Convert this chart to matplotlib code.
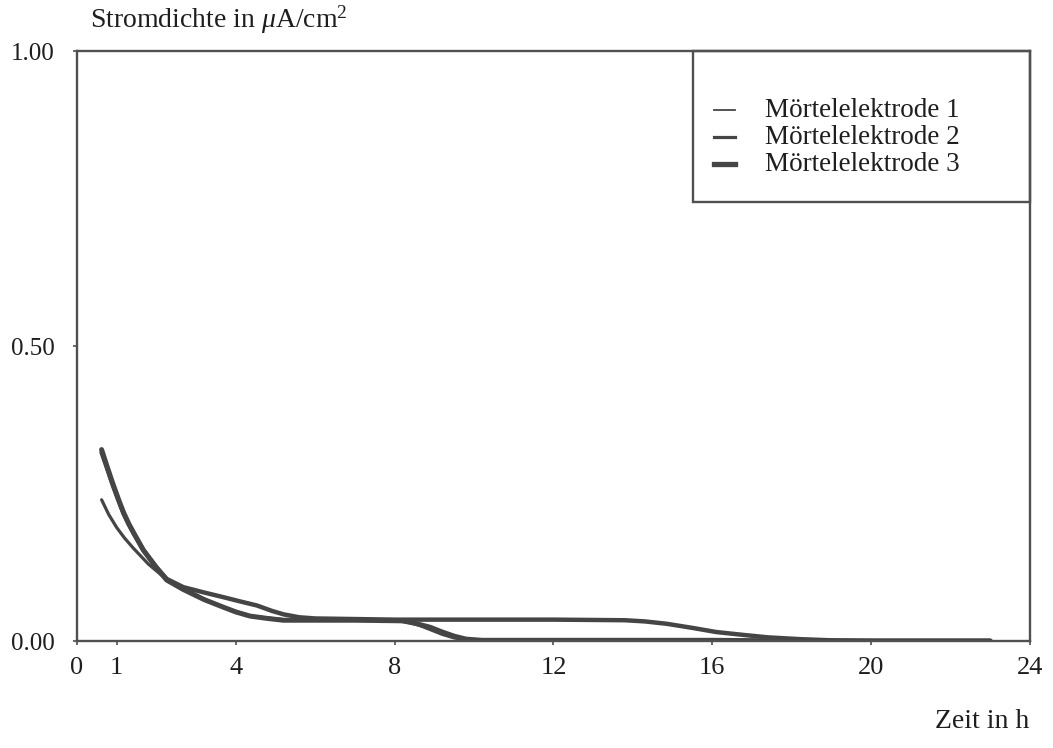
import matplotlib
matplotlib.use("Agg")
import matplotlib.pyplot as plt
from matplotlib.lines import Line2D
from matplotlib.patches import Rectangle

plt.rcParams['font.family'] = ['Liberation Serif', 'DejaVu Serif']
plt.rcParams['mathtext.fontset'] = 'custom'
plt.rcParams['mathtext.rm'] = 'Liberation Serif'
plt.rcParams['mathtext.it'] = 'Liberation Serif:italic'

# ---- data ----
labels = ["Mörtelelektrode 1", "Mörtelelektrode 2", "Mörtelelektrode 3"]

t1 = [0.62, 0.8, 1.0, 1.2, 1.42, 1.8, 2.26, 2.68, 3.2, 3.69, 4.36, 5.2, 6.0, 7.0, 8.0,
      8.3, 8.6, 8.9, 9.2, 9.5, 9.8, 10.5, 12.0, 14.0, 16.0, 18.0, 20.0, 22.0, 23.0]
j1 = [0.24, 0.215, 0.193, 0.175, 0.158, 0.131, 0.105, 0.090, 0.072, 0.058, 0.043, 0.037, 0.036, 0.036, 0.035,
      0.033, 0.028, 0.020, 0.012, 0.006, 0.003, 0.002, 0.002, 0.002, 0.002, 0.001, 0.001, 0.001, 0.001]

t2 = [0.62, 0.75, 0.9, 1.05, 1.17, 1.3, 1.42, 1.67, 2.0, 2.26, 2.68, 3.2, 3.69, 4.1, 4.53, 4.9, 5.2, 5.6,
      6.0, 8.0, 10.0, 12.0, 13.8, 14.3, 14.85, 15.5, 16.1, 16.8, 17.4, 18.2, 19.0, 20.0, 22.0, 23.0]
j2 = [0.32, 0.295, 0.265, 0.238, 0.217, 0.199, 0.184, 0.155, 0.126, 0.106, 0.092, 0.083, 0.075, 0.068, 0.061,
      0.052, 0.046, 0.041, 0.039, 0.037, 0.037, 0.037, 0.036, 0.034, 0.030, 0.023, 0.016, 0.011, 0.007, 0.004,
      0.002, 0.001, 0.001, 0.001]

t3 = [0.62, 0.75, 0.9, 1.05, 1.17, 1.3, 1.42, 1.67, 2.0, 2.26, 2.68, 3.2, 3.69, 4.0, 4.36, 4.8, 5.2, 6.0, 7.0,
      8.2, 8.5, 8.9, 9.2, 9.5, 9.8, 10.2, 12.0, 14.0, 16.0, 18.0, 20.0, 22.0, 23.0]
j3 = [0.325, 0.298, 0.268, 0.240, 0.219, 0.200, 0.185, 0.155, 0.125, 0.104, 0.088, 0.071, 0.058, 0.050, 0.043,
      0.039, 0.036, 0.036, 0.036, 0.035, 0.031, 0.024, 0.016, 0.009, 0.004, 0.002, 0.002, 0.002, 0.002, 0.001,
      0.001, 0.001, 0.001]

xticks = [0, 1, 4, 8, 12, 16, 20, 24]
yticks = [0.0, 0.5, 1.0]
yticklabels = ["0.00", "0.50", "1.00"]

line_color = "#454545"
text_color = "#1e1e1e"
widths = [2.3, 3.2, 3.6]

fig = plt.figure(figsize=(10.53, 7.48), dpi=100)
ax = fig.add_axes([0.0731, 0.1424, 0.905, 0.7894])

for (t, j, w) in zip([t1, t2, t3], [j1, j2, j3], widths):
    ax.plot(t, j, color=line_color, lw=w, solid_capstyle='round', solid_joinstyle='round')

ax.set_xlim(0, 24)
ax.set_ylim(0, 1.0)
ax.set_xticks(xticks)
ax.set_yticks(yticks)
ax.set_yticklabels(yticklabels)
for s in ax.spines.values():
    s.set_color("#505050")
    s.set_linewidth(1.7)
ax.tick_params(axis='both', direction='out', length=3, width=1.2, color="#505050",
               labelsize=19, labelcolor=text_color)
ax.tick_params(axis='x', pad=8)
ax.tick_params(axis='y', labelsize=18, pad=13)

# axis titles
fig.text(90 / 1053, 1 - 28 / 748, r"Stromdichte in $\mu$A/cm$^2$", fontsize=20,
         color=text_color, ha='left', va='baseline')
fig.text(935 / 1053, 1 - 728 / 748, "Zeit in h", fontsize=20,
         color=text_color, ha='left', va='baseline')

# legend box (upper right, sharing top and right spines)
bx0 = (693 - 77) / (1030 - 77)
by0 = (641.5 - 202) / (641.5 - 51)
ax.add_patch(Rectangle((bx0, by0), 1 - bx0, 1 - by0, transform=ax.transAxes,
                       fill=False, edgecolor="#505050", lw=1.7, clip_on=False))
leg_widths = [1.3, 2.3, 3.8]
rows_px = [110, 137, 164]
for lab, lw, ypx in zip(labels, leg_widths, rows_px):
    yf = (641.5 - ypx) / (641.5 - 51)
    hx0 = (714 - 77) / (1030 - 77)
    hx1 = (735 - 77) / (1030 - 77)
    ax.add_line(Line2D([hx0, hx1], [yf, yf], transform=ax.transAxes,
                       color=line_color, lw=lw, clip_on=False))
    ax.text((765 - 77) / (1030 - 77), yf, lab, transform=ax.transAxes,
            fontsize=19.5, color=text_color, ha='left', va='center')

fig.savefig("out.png", dpi=100)
